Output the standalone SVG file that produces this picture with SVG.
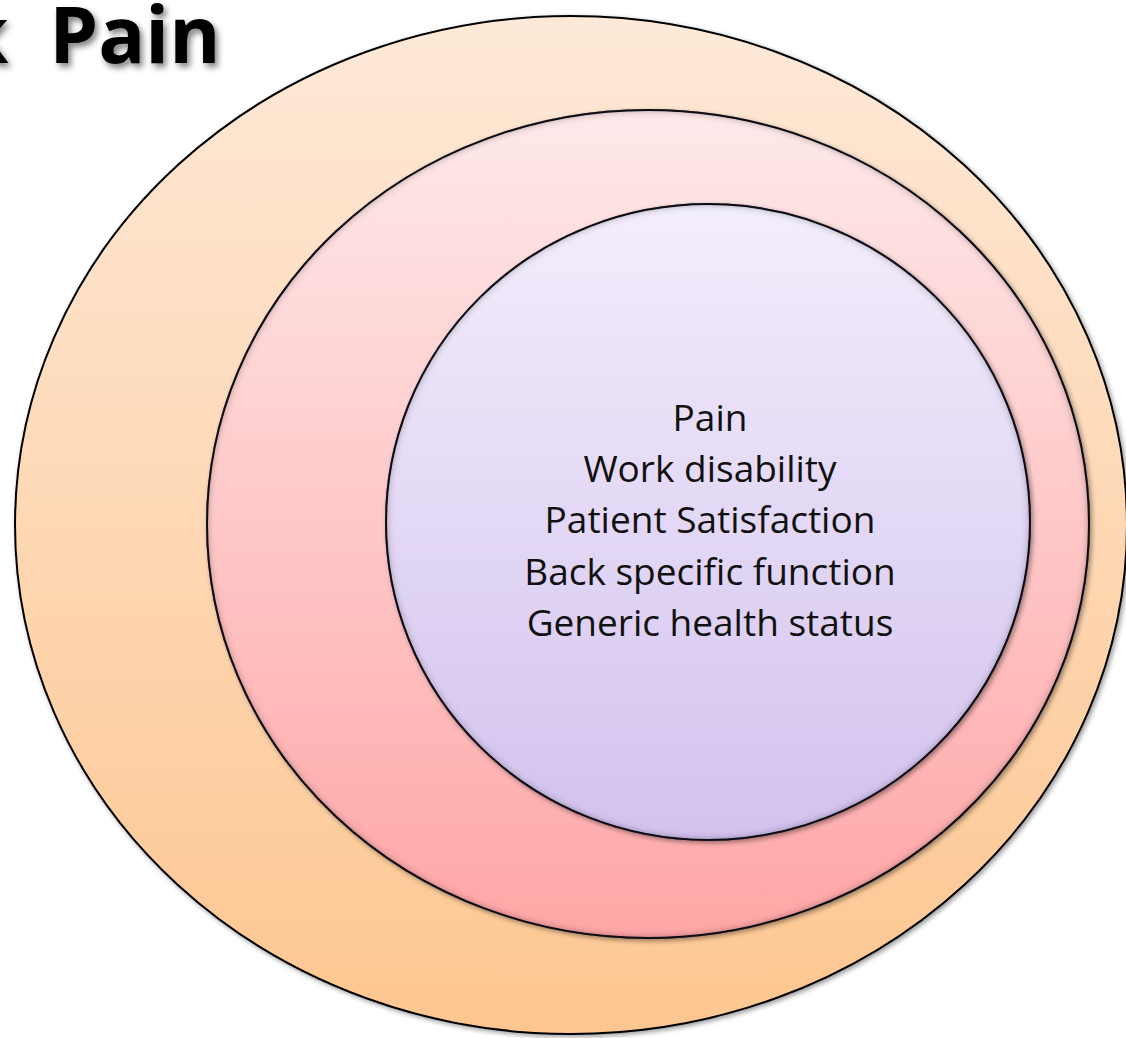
<svg xmlns="http://www.w3.org/2000/svg" width="1126" height="1038" viewBox="0 0 1126 1038">
<defs>
<linearGradient id="gOuter" x1="0" y1="0" x2="0" y2="1">
<stop offset="0" stop-color="#FEE9D8"/><stop offset="1" stop-color="#FDC690"/>
</linearGradient>
<linearGradient id="gMid" x1="0" y1="0" x2="0" y2="1">
<stop offset="0" stop-color="#FEE9EA"/><stop offset="1" stop-color="#FFA6A6"/>
</linearGradient>
<linearGradient id="gInner" x1="0" y1="0" x2="0" y2="1">
<stop offset="0" stop-color="#F3EEFC"/><stop offset="1" stop-color="#D3C2EE"/>
</linearGradient>
<filter id="shadow" x="-10%" y="-10%" width="120%" height="120%">
<feGaussianBlur in="SourceAlpha" stdDeviation="2.5"/>
<feOffset dx="2" dy="2"/>
<feComponentTransfer><feFuncA type="linear" slope="0.4"/></feComponentTransfer>
<feMerge><feMergeNode/><feMergeNode in="SourceGraphic"/></feMerge>
</filter>
<filter id="inset" x="-5%" y="-5%" width="110%" height="110%">
<feGaussianBlur in="SourceAlpha" stdDeviation="4" result="b"/>
<feComposite in="SourceAlpha" in2="b" operator="out" result="ring"/>
<feFlood flood-color="#1e1428" flood-opacity="1"/>
<feComposite in2="ring" operator="in" result="sh"/>
<feMerge><feMergeNode in="SourceGraphic"/><feMergeNode in="sh"/></feMerge>
</filter>
<filter id="tshadow" x="-10%" y="-20%" width="130%" height="150%">
<feGaussianBlur in="SourceAlpha" stdDeviation="3"/>
<feOffset dx="3" dy="4"/>
<feComponentTransfer><feFuncA type="linear" slope="0.5"/></feComponentTransfer>
<feMerge><feMergeNode/><feMergeNode in="SourceGraphic"/></feMerge>
</filter>
</defs>
<style>
.ring{stroke:#000;stroke-width:2}
.lbl{font-family:"Open Sans","Liberation Sans",sans-serif;font-size:37px;fill:#111;text-anchor:middle}
.title{font-family:"Open Sans","Liberation Sans",sans-serif;font-weight:bold;font-size:78px;fill:#000}
</style>
<rect width="1126" height="1038" fill="#fff"/>
<g id="title"><text class="title" y="63" filter="url(#tshadow)"><tspan x="-40">k</tspan><tspan x="29"> Pain</tspan></text></g>
<g id="outer" filter="url(#shadow)">
<ellipse cx="571" cy="525" rx="556" ry="509" fill="url(#gOuter)" class="ring"/>
</g>
<g id="middle" filter="url(#shadow)">
<ellipse cx="648" cy="524" rx="441" ry="414" fill="url(#gMid)" class="ring" filter="url(#inset)"/>
</g>
<g id="inner">
<g filter="url(#shadow)">
<ellipse cx="708" cy="522" rx="322" ry="318" fill="url(#gInner)" class="ring" filter="url(#inset)"/>
</g>
<text class="lbl" x="710" y="431">Pain</text>
<text class="lbl" x="710" y="482">Work disability</text>
<text class="lbl" x="710" y="533">Patient Satisfaction</text>
<text class="lbl" x="710" y="585">Back specific function</text>
<text class="lbl" x="710" y="636">Generic health status</text>
</g>
<g id="connectors"/>
</svg>
